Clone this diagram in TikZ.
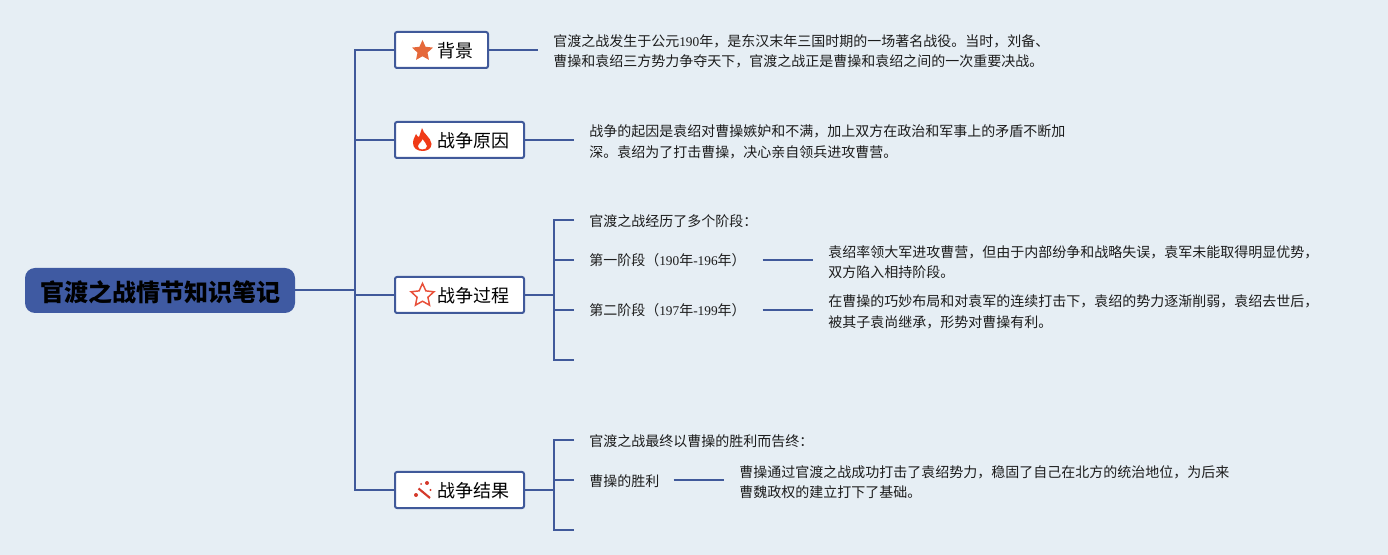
\documentclass[tikz,border=0pt]{standalone}
\usepackage{fontspec}
\setmainfont{Liberation Serif}
\newfontfamily\cjk{Noto Sans CJK SC}
\usetikzlibrary{shapes.geometric}
\definecolor{paper}{HTML}{E6EEF4}
\definecolor{linkblue}{HTML}{40599A}
\definecolor{rootblue}{HTML}{3F5AA2}
\definecolor{textgray}{HTML}{1C1C1C}
\definecolor{staricon}{HTML}{E5683A}
\definecolor{flameicon}{HTML}{F03A17}
\definecolor{outlineicon}{HTML}{E8503A}
\definecolor{wandicon}{HTML}{D4392B}
\newcommand{\lat}[1]{{\rmfamily\fontsize{10}{15.4}\selectfont #1}}
\tikzset{
  link/.style={draw=linkblue, line width=1.5pt},
  rootbox/.style={fill=rootblue, rounded corners=7.5pt, minimum width=202.5pt,
    minimum height=33.75pt, inner sep=0pt, text=black, text height=16pt, text depth=0pt,
    font=\cjk\bfseries\fontsize{18}{22}\selectfont},
  topic/.style={draw=linkblue, line width=1.5pt, fill=white, rounded corners=1.5pt,
    minimum height=27pt, inner xsep=11.25pt, inner ysep=0pt, align=right,
    text=black, text height=11.5pt, text depth=0pt, font=\cjk\fontsize{13.5}{16}\selectfont},
  note/.style={inner xsep=11.25pt, inner ysep=0pt, anchor=west, align=left,
    text=textgray, font=\cjk\fontsize{10.5}{15.4}\selectfont},
  stage/.style={note, text height=9pt, text depth=0pt},
  starshape/.style={star, star points=5, star point ratio=2.1, inner sep=0pt}
}
\begin{document}
\begin{tikzpicture}[x=0.75pt, y=-0.75pt]
\fill[paper] (0,0) rectangle (1388,555);
\useasboundingbox (0,0) rectangle (1388,555);

% root and topics
\node[rootbox] (root) at (160,290.5) {官渡之战情节知识笔记};
\node[topic, text width=47.25pt] (background) at (441.5,50) {背景};
\node[topic, text width=74.25pt] (cause) at (459.5,140) {战争原因};
\node[topic, text width=74.25pt] (course) at (459.5,295) {战争过程};
\node[topic, text width=74.25pt] (outcome) at (459.5,490) {战争结果};

% trunk
\coordinate (trunktop) at (355,50);
\coordinate (trunkmid) at (355,290);
\coordinate (trunkbot) at (355,490);
\draw[link] (root.east |- trunkmid) -- (trunkmid);
\draw[link, line cap=rect] (trunktop) -- (trunkbot);
\draw[link] (trunktop) -- (background);
\draw[link] (355,140) -- (cause);
\draw[link] (355,295) -- (course);
\draw[link] (trunkbot) -- (outcome);

% background text
\node[note] (backgroundtext) at (538,51.5)
  {官渡之战发生于公元\lat{190}年，是东汉末年三国时期的一场著名战役。当时，刘备、\\
   曹操和袁绍三方势力争夺天下，官渡之战正是曹操和袁绍之间的一次重要决战。};
\draw[link] (background) -- (backgroundtext.west |- background);

% cause text
\node[note] (causetext) at (574,142)
  {战争的起因是袁绍对曹操嫉妒和不满，加上双方在政治和军事上的矛盾不断加\\
   深。袁绍为了打击曹操，决心亲自领兵进攻曹营。};
\draw[link] (cause) -- (causetext.west |- cause);

% course branch
\coordinate (coursefork) at (554,295);
\coordinate (coursetop) at (554,220);
\coordinate (coursebot) at (554,360);
\coordinate (courseend) at (574,360);
\node[note] (coursehead) at (574,221.5) {官渡之战经历了多个阶段：};
\node[stage, text width=118.5pt] (stageone) at (574,260) {第一阶段（\lat{190}年\lat{-196}年）};
\node[stage, text width=118.5pt] (stagetwo) at (574,310) {第二阶段（\lat{197}年\lat{-199}年）};
\node[note] (stageonetext) at (813,262)
  {袁绍率领大军进攻曹营，但由于内部纷争和战略失误，袁军未能取得明显优势，\\
   双方陷入相持阶段。};
\node[note] (stagetwotext) at (813,312)
  {在曹操的巧妙布局和对袁军的连续打击下，袁绍的势力逐渐削弱，袁绍去世后，\\
   被其子袁尚继承，形势对曹操有利。};
\draw[link] (course) -- (coursefork);
\draw[link] (coursehead.west |- coursetop) -- (coursetop) -- (coursebot) -- (courseend);
\draw[link] (coursefork |- stageone) -- (stageone);
\draw[link] (coursefork |- stagetwo) -- (stagetwo);
\draw[link] (stageone) -- (stageonetext.west |- stageone);
\draw[link] (stagetwo) -- (stagetwotext.west |- stagetwo);

% outcome branch
\coordinate (outcomefork) at (554,490);
\coordinate (outcometop) at (554,440);
\coordinate (outcomebot) at (554,530);
\coordinate (outcomeend) at (574,530);
\node[note] (outcomehead) at (574,441.5) {官渡之战最终以曹操的胜利而告终：};
\node[stage, text width=51.75pt] (victory) at (574,480) {曹操的胜利};
\node[note] (victorytext) at (724,482)
  {曹操通过官渡之战成功打击了袁绍势力，稳固了自己在北方的统治地位，为后来\\
   曹魏政权的建立打下了基础。};
\draw[link] (outcome) -- (outcomefork);
\draw[link] (outcomehead.west |- outcometop) -- (outcometop) -- (outcomebot) -- (outcomeend);
\draw[link] (outcomefork |- victory) -- (victory);
\draw[link] (victory) -- (victorytext.west |- victory);

% icons
\node[starshape, fill=staricon, minimum size=16.5pt] (starfilled) at (422.5,51) {};
\node[starshape, draw=outlineicon, fill=white, line width=1.1pt,
  minimum size=18pt] (staroutline) at (422.5,295.5) {};
% flame
\fill[flameicon, even odd rule]
  (422,128) .. controls (423,134) and (431,137) .. (431.5,144)
  .. controls (431.5,149) and (427,151) .. (422.5,151)
  .. controls (417,151) and (413,148) .. (413,143)
  .. controls (413,139) and (415,137) .. (416,134)
  .. controls (417,136) and (418,137) .. (419,137)
  .. controls (420,134) and (421,131) .. (422,128) -- cycle
  (422.5,139) .. controls (422,142) and (418,143.5) .. (418,146.5)
  .. controls (418,148.5) and (420,149.5) .. (422.5,149.5)
  .. controls (425,149.5) and (427,148.5) .. (427,146)
  .. controls (427,143.5) and (424,142) .. (422.5,139) -- cycle;
% wand
\draw[wandicon, line width=1.6pt] (418.5,488.5) -- (430,498);
\fill[wandicon] (427,483) circle (2) (416,495) circle (2)
  (430.5,490) circle (1.2) (421,484) circle (1);
\end{tikzpicture}
\end{document}
